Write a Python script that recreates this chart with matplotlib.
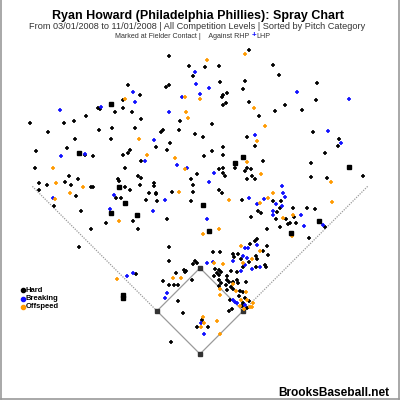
import matplotlib
matplotlib.use("Agg")
import matplotlib.pyplot as plt

plt.rcParams['font.family'] = ['Liberation Sans', 'DejaVu Sans']

# batted ball locations in image pixels (x right, y down)
hard = [
    (249, 50), (169, 56), (189, 66), (193, 76), (128, 85), (169, 85), (166, 87), (140, 95), (123, 100),
    (98, 108), (100, 109), (123, 108), (115, 112), (132, 112), (86, 116), (30, 123), (64, 123), (74, 121),
    (141, 119), (180, 121), (99, 130), (112, 128), (135, 128), (163, 130), (161, 132), (179, 130), (48, 132),
    (75, 139), (111, 139), (195, 134), (170, 143), (156, 147), (67, 148), (36, 151), (85, 155), (93, 156),
    (130, 150), (128, 153), (123, 155), (167, 150), (141, 161), (35, 168), (125, 168), (69, 176), (78, 179),
    (197, 174), (138, 176), (141, 178), (118, 179), (119, 181), (191, 179), (39, 183), (65, 182), (154, 183),
    (47, 185), (71, 185), (91, 187), (93, 187), (125, 187), (140, 185), (154, 186), (193, 185), (39, 190),
    (76, 196), (130, 190), (149, 193), (156, 194), (172, 192), (193, 192), (116, 198), (121, 198), (146, 200),
    (205, 67), (219, 66), (273, 65), (279, 75), (220, 82), (245, 81), (317, 83), (243, 89), (227, 93),
    (223, 95), (222, 97), (249, 102), (316, 100), (226, 103), (223, 105), (285, 105), (275, 111), (302, 110),
    (259, 116), (212, 124), (313, 132), (247, 137), (203, 137), (339, 139), (338, 146), (255, 146), (223, 147),
    (212, 151), (204, 156), (223, 155), (325, 153), (263, 161), (311, 163), (219, 169), (223, 168), (235, 168),
    (247, 168), (251, 169), (245, 171), (223, 173), (225, 176), (252, 176), (247, 179), (255, 179), (311, 177),
    (327, 178), (363, 176), (219, 190), (222, 193), (242, 200),
    (156, 193), (157, 201), (191, 201), (281, 201), (293, 208), (307, 208), (315, 209), (167, 219), (251, 217),
    (258, 211), (261, 213), (277, 212), (276, 219), (294, 217), (286, 219), (290, 223), (288, 224), (296, 223),
    (325, 227), (267, 229), (280, 227), (273, 201), (280, 208), (309, 238),
    (257, 239), (255, 241), (250, 244), (267, 246), (263, 251), (169, 247), (213, 252), (220, 252), (233, 254),
    (238, 254), (234, 257), (256, 256), (268, 255), (241, 259), (249, 262), (257, 259), (265, 265), (266, 267),
    (243, 267), (256, 267), (169, 261), (195, 261), (197, 263), (193, 264), (176, 273), (184, 270), (185, 272),
    (186, 271), (163, 281), (192, 280), (215, 269), (217, 273), (219, 270), (221, 272), (219, 275), (214, 276),
    (227, 276), (231, 271), (237, 272), (219, 280), (221, 283), (227, 280), (229, 282), (226, 285), (233, 282),
    (237, 280), (238, 283), (246, 282), (231, 287), (227, 290), (219, 286), (233, 289), (240, 291), (243, 292),
    (169, 285), (174, 285), (178, 285), (178, 301), (230, 300), (239, 296), (245, 298), (249, 301), (243, 303),
    (242, 306), (247, 308), (229, 311), (232, 309), (183, 313), (202, 320), (197, 327), (208, 327), (171, 342),
    (54, 206), (81, 211), (133, 221), (91, 229), (106, 223), (138, 229), (79, 247), (136, 274),
]
hard_sq = [
    (111, 104), (79, 153), (119, 187), (243, 157), (235, 163), (349, 167), (203, 205), (319, 221),
    (291, 233), (209, 231), (125, 203), (111, 213), (137, 215), (123, 295), (123, 298),
]
breaking = [
    (195, 72), (196, 84), (133, 92), (182, 97), (200, 94), (135, 102), (101, 107), (60, 110), (169, 112),
    (61, 156), (85, 154), (154, 140), (145, 161), (177, 165), (187, 168), (114, 195), (53, 198), (165, 200),
    (209, 88), (297, 92), (349, 99), (328, 131), (255, 135), (341, 143), (214, 173), (209, 182), (282, 186),
    (283, 193), (285, 197), (249, 198), (264, 199),
    (257, 204), (276, 204), (282, 206), (153, 211), (207, 219), (273, 211), (273, 215), (301, 215), (323, 225),
    (304, 226), (257, 245), (245, 248), (248, 248), (243, 256), (247, 258), (233, 261), (260, 267), (245, 265),
    (252, 269), (241, 271), (207, 263), (213, 262), (167, 293), (165, 298), (233, 300), (235, 302), (237, 303),
    (245, 305), (201, 323), (204, 334), (110, 209), (133, 273), (127, 276),
]
offspeed = [
    (185, 97), (125, 99), (186, 112), (188, 118), (139, 139), (147, 155), (175, 158), (185, 169), (53, 168),
    (56, 183), (83, 187), (70, 193), (179, 192), (55, 199),
    (245, 54), (207, 60), (200, 99), (254, 108), (265, 126), (257, 141), (247, 162), (261, 174), (331, 182),
    (273, 193), (268, 198), (229, 200), (260, 203), (283, 218), (293, 215), (219, 229), (332, 202), (292, 236),
    (203, 234), (241, 246), (260, 251), (252, 259), (243, 263), (214, 263), (223, 264), (173, 278), (181, 278),
    (233, 284), (220, 289), (236, 291), (246, 292), (220, 295), (241, 300), (247, 300), (253, 303), (240, 306),
    (250, 307), (252, 307), (244, 309), (203, 317), (204, 323), (201, 327), (217, 321), (220, 334),
    (119, 221), (117, 279),
]

# field geometry in image pixels
home = (200, 354)
first_base = (243, 311)
second_base = (200, 268)
third_base = (157, 311)
left_pole = (32, 186)
right_pole = (368, 186)

legend_labels = ["Hard", "Breaking", "Offspeed"]
colors = ["#000000", "#1010ff", "#ff9a00"]

fig = plt.figure(figsize=(4, 4), dpi=100)
ax = fig.add_axes([0, 0, 1, 1])
ax.set_xlim(0, 400)
ax.set_ylim(400, 0)
ax.axis("off")

line_col = "#9a9a9a"
diamond = [home, first_base, second_base, third_base, home]
ax.plot([p[0] for p in diamond], [p[1] for p in diamond], color=line_col, lw=0.9, zorder=1)
ax.plot([first_base[0], right_pole[0]], [first_base[1], right_pole[1]], color=line_col, lw=0.9,
        ls=(0, (1, 1)), zorder=1)
ax.plot([third_base[0], left_pole[0]], [third_base[1], left_pole[1]], color=line_col, lw=0.9,
        ls=(0, (1, 1)), zorder=1)
bases = [home, first_base, second_base, third_base]
ax.plot([b[0] for b in bases], [b[1] for b in bases], 's', color="#333333", ms=2.5, zorder=2)

for pts, c in [(hard, colors[0]), (breaking, colors[1]), (offspeed, colors[2])]:
    ax.plot([p[0] for p in pts], [p[1] for p in pts], '+', color=c, ms=3.5, mew=1.2, zorder=3)
ax.plot([p[0] for p in hard_sq], [p[1] for p in hard_sq], 's', color="#000000", ms=2.2, zorder=3)

# legend
for i, (lab, c) in enumerate(zip(legend_labels, colors)):
    y = 290 + i * 8.5
    ax.plot(23, y, 'o', color=c, ms=3, zorder=4)
    ax.text(26, y, lab, fontsize=5.5, fontweight="bold", va="center", ha="left")

# titles
ax.text(198, 16, "Ryan Howard (Philadelphia Phillies): Spray Chart", fontsize=9,
        fontweight="bold", ha="center", va="center")
ax.text(197.5, 26.5, "From 03/01/2008 to 11/01/2008 | All Competition Levels | Sorted by Pitch Category",
        fontsize=6.6, color="#333333", ha="center", va="center")
ax.text(251, 36, "Marked at Fielder Contact |    Against RHP ", fontsize=5.1, color="#333333",
        ha="right", va="center")
ax.text(253.5, 36, "+", fontsize=5.8, color="#1010ff", fontweight="bold", ha="center", va="center")
ax.text(256, 36, "LHP", fontsize=5.1, color="#333333", ha="left", va="center")

ax.text(389, 395.5, "BrooksBaseball.net", fontsize=8.6, fontweight="bold", ha="right", va="baseline")

# frame on left, right and bottom
ax.plot([0.7, 0.7], [0, 399.3], color="#999999", lw=1.2, zorder=5)
ax.plot([399.3, 399.3], [0, 399.3], color="#999999", lw=1.2, zorder=5)
ax.plot([0.7, 399.3], [399.3, 399.3], color="#999999", lw=1.2, zorder=5)

fig.savefig("out.png", dpi=100)
